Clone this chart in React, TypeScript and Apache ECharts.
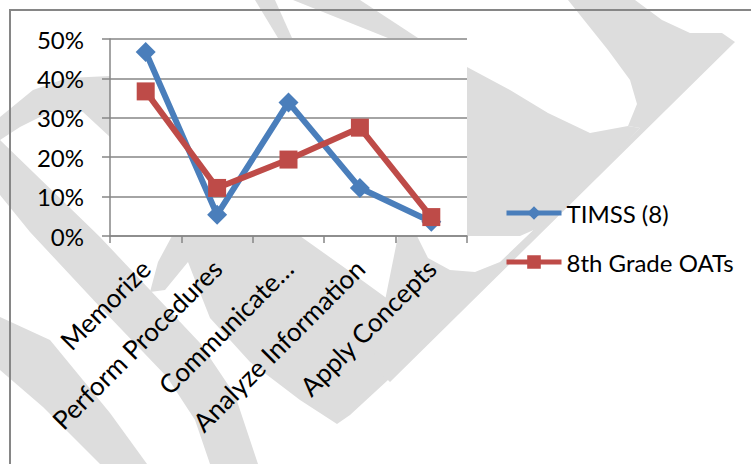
import React, { useEffect, useRef } from 'react';
import * as echarts from 'echarts';

const categories = ['Memorize', 'Perform Procedures', 'Communicate…', 'Analyze Information', 'Apply Concepts'];
const timss = [0.467, 0.054, 0.339, 0.122, 0.036];
const oats = [0.367, 0.122, 0.194, 0.275, 0.048];
const seriesNames = ['TIMSS (8)', '8th Grade OATs'];
const yTicks = { min: 0, max: 0.5, interval: 0.1 };

const WM = '#dddddd';
const watermark: number[][][] = [
  [[0, 117], [33, 90], [67, 78], [110, 76], [110, 137], [83, 112], [50, 112], [20, 127], [0, 140]],
  [[0, 140], [100, 237], [150, 290], [200, 343], [235, 395], [258, 464], [210, 464], [195, 420], [167, 377], [100, 307], [30, 232], [0, 195]],
  [[0, 317], [50, 340], [110, 413], [147, 464], [100, 464], [43, 407], [0, 370]],
  [[172, 236], [300, 236], [345, 268], [385, 297], [420, 318], [388, 380], [350, 415], [337, 424], [300, 400], [250, 362], [210, 318], [195, 280], [188, 262], [165, 290], [150, 292], [158, 262]],
  [[568, 0], [635, 0], [662, 20], [690, 33], [722, 33], [735, 42], [390, 382], [372, 365], [398, 236], [417, 236], [428, 258], [450, 270], [475, 272], [500, 262], [640, 128], [628, 126], [637, 104], [630, 80], [608, 50]],
  [[467, 67], [510, 90], [548, 113], [590, 133], [628, 126], [640, 128], [545, 225], [520, 236], [467, 236]],
  [[255, 0], [275, 0], [292, 38], [278, 38]],
  [[293, 0], [360, 0], [418, 38], [388, 38]],
];

export default function App() {
  const ref = useRef<HTMLDivElement>(null);
  useEffect(() => {
    const chart = echarts.init(ref.current!, null, { renderer: 'svg' });
    const font = 'Lato';
    const gray = '#868686';
    chart.setOption({
      animation: false,
      backgroundColor: '#ffffff',
      graphic: [
        ...watermark.map((pts) => ({
          type: 'polygon',
          silent: true,
          z: -10,
          shape: { points: pts },
          style: { fill: WM },
        })),
        {
          type: 'rect',
          silent: true,
          z: 100,
          shape: { x: 10, y: 10, width: 800, height: 500 },
          style: { fill: 'none', stroke: gray, lineWidth: 2 },
        },
      ],
      grid: {
        left: 110,
        right: 284,
        top: 39,
        bottom: 228,
        show: true,
        backgroundColor: '#ffffff',
        borderWidth: 0,
      },
      legend: {
        orient: 'vertical',
        left: 499,
        top: 196,
        itemWidth: 55,
        itemHeight: 17,
        itemGap: 25,
        data: seriesNames,
        lineStyle: { width: 5 },
        textStyle: { fontSize: 24, fontFamily: font, color: '#000' },
      },
      xAxis: {
        type: 'category',
        data: categories,
        boundaryGap: true,
        axisLine: { show: true, lineStyle: { color: gray, width: 1.5 } },
        axisTick: { show: true, length: 7, lineStyle: { color: gray, width: 1.5 } },
        axisLabel: { rotate: 45, interval: 0, fontSize: 26, fontFamily: font, color: '#000', margin: 28 },
      },
      yAxis: {
        type: 'value',
        min: yTicks.min,
        max: yTicks.max,
        interval: yTicks.interval,
        axisLine: { show: true, lineStyle: { color: gray, width: 1.5 } },
        axisTick: { show: true, length: 8, lineStyle: { color: gray, width: 1.5 } },
        splitLine: { show: true, lineStyle: { color: gray, width: 1.5 } },
        axisLabel: {
          fontSize: 24,
          fontFamily: font,
          color: '#000',
          margin: 26,
          formatter: (v: number) => Math.round(v * 100) + '%',
        },
      },
      series: [
        {
          name: seriesNames[0],
          type: 'line',
          data: timss,
          symbol: 'diamond',
          symbolSize: 20,
          lineStyle: { width: 6, color: '#4a7ebb' },
          itemStyle: { color: '#4a7ebb' },
        },
        {
          name: seriesNames[1],
          type: 'line',
          data: oats,
          symbol: 'rect',
          symbolSize: 18,
          lineStyle: { width: 6, color: '#be4b48' },
          itemStyle: { color: '#be4b48' },
        },
      ],
    });
    return () => chart.dispose();
  }, []);
  return <div ref={ref} style={{ position: 'absolute', left: 0, top: 0, width: 751, height: 464 }} />;
}
